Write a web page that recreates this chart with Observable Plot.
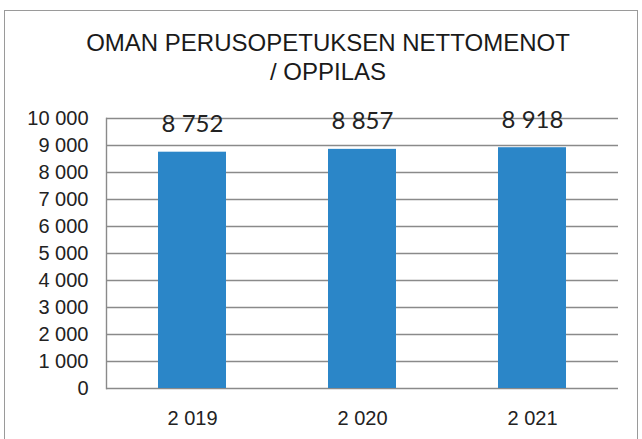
<!DOCTYPE html>
<html>
<head>
<meta charset="utf-8">
<script src="https://cdn.jsdelivr.net/npm/d3@7"></script>
<script src="https://cdn.jsdelivr.net/npm/@observablehq/plot@0.6"></script>
<style>
  html, body { margin: 0; padding: 0; background: #fff; }
  #wrap { position: relative; width: 642px; height: 439px; overflow: hidden; background: #fff; }
  #border { position: absolute; left: 4px; top: 10px; width: 634px; height: 440px; border: 1.5px solid #9a9a9a; border-bottom: none; box-sizing: border-box; }
  #title { position: absolute; left: 7px; top: 28px; width: 642px; text-align: center;
    font-family: "Liberation Sans", Arial, sans-serif; font-size: 24px; line-height: 29px; color: #1a1a1a; }
  #chart { position: absolute; left: 0; top: 100px; }
</style>
</head>
<body>
<div id="wrap">
  <div id="border"></div>
  <div id="title">OMAN PERUSOPETUKSEN NETTOMENOT<br>/ OPPILAS</div>
  <div id="chart"></div>
</div>
<script>
const years = [2019, 2020, 2021];
const values = [8752, 8857, 8918];
const yTicks = [0, 1000, 2000, 3000, 4000, 5000, 6000, 7000, 8000, 9000, 10000];

const fmt = d => d3.format(",")(d).replace(/,/g, " ");
const data = years.map((y, i) => ({year: fmt(y), value: values[i]}));

const chart = Plot.plot({
  width: 642,
  height: 339,
  marginTop: 18,
  marginBottom: 51,
  marginLeft: 106,
  marginRight: 24,
  style: {fontFamily: "'Liberation Sans', Arial, sans-serif", fontSize: "20px", color: "#222", background: "transparent", overflow: "visible"},
  x: {domain: data.map(d => d.year), paddingInner: 0.6, paddingOuter: 0.3, label: null},
  y: {domain: [0, 10000], label: null},
  marks: [
    Plot.gridY(yTicks, {stroke: "#8a8a8a", strokeOpacity: 1, strokeWidth: 1.4}),
    Plot.frame({anchor: "left", stroke: "#8a8a8a", strokeWidth: 1.4}),
    Plot.barY(data, {x: "year", y: "value", fill: "#2b86c8"}),
    Plot.text(data, {x: "year", y: "value", text: d => fmt(d.value), lineAnchor: "bottom", dy: -20,
      fontSize: 24, fontFamily: "Lato, 'Liberation Sans', sans-serif", fill: "#222"}),
    Plot.axisY(yTicks, {tickSize: 0, tickPadding: 18, tickFormat: fmt, fontSize: 20, label: null}),
    Plot.axisX({tickSize: 0, tickPadding: 22, fontSize: 20, label: null})
  ]
});
document.getElementById("chart").appendChild(chart);
</script>
</body>
</html>
